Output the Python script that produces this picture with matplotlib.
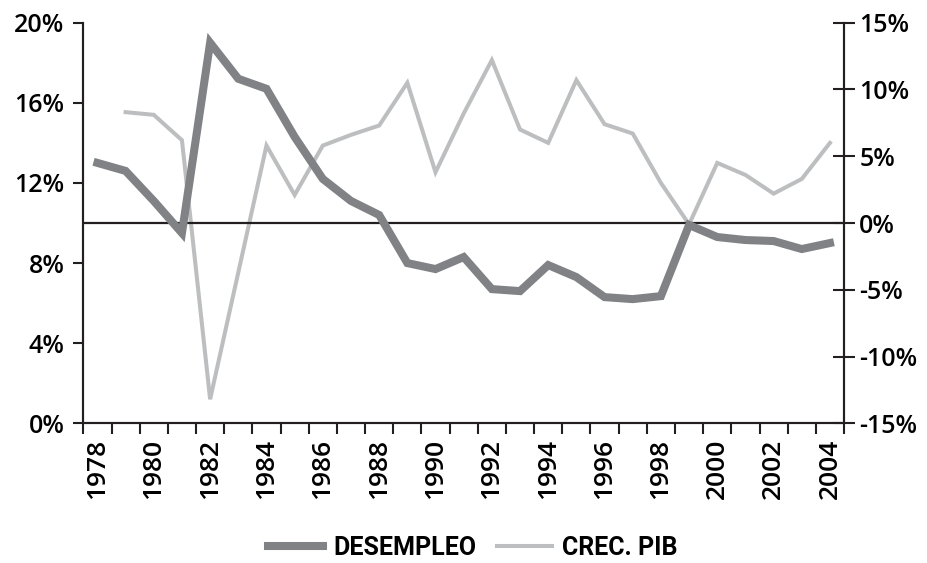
import numpy as np
import matplotlib
matplotlib.use("Agg")
import matplotlib.pyplot as plt
from matplotlib.ticker import FuncFormatter, FixedLocator

years = list(range(1978, 2005))
desempleo = [13.0, 12.6, 11.1, 9.5, 19.0, 17.2, 16.7, 14.3, 12.2, 11.1, 10.4,
             8.0, 7.7, 8.3, 6.7, 6.6, 7.9, 7.3, 6.3, 6.2, 6.35, 9.9, 9.3,
             9.15, 9.1, 8.7, 9.0]
# growth series starts in 1979
crec_pib = [np.nan, 8.3, 8.1, 6.2, -13.2, -3.7, 5.8, 2.1, 5.8, 6.6, 7.3,
            10.5, 3.8, 8.2, 12.2, 7.0, 6.0, 10.7, 7.4, 6.7, 3.0, -0.1, 4.5,
            3.6, 2.2, 3.3, 6.0]
label_years = years[::2]

font = 'Open Sans'
plt.rcParams['font.family'] = [font, 'DejaVu Sans']

fig = plt.figure(figsize=(9.27, 5.63), dpi=100)
ax = fig.add_axes([0.0899, 0.2481, 0.8206, 0.7116])
ax2 = ax.twinx()

x = np.arange(len(years))
ax2.plot(x, crec_pib, color='#bcbec0', linewidth=2.9, solid_joinstyle='miter',
         label='CREC. PIB')
ax.axhline(10, color='#231f20', linewidth=1.6, zorder=1)
ax.plot(x, desempleo, color='#808285', linewidth=5.8, solid_joinstyle='miter',
        label='DESEMPLEO', zorder=3)

ax.set_zorder(ax2.get_zorder() + 1)
ax.patch.set_visible(False)

ax.set_xlim(-0.5, len(years) - 0.5)
ax.set_ylim(0, 20)
ax2.set_ylim(-15, 15)

ax.set_yticks([0, 4, 8, 12, 16, 20])
ax.yaxis.set_major_formatter(FuncFormatter(lambda v, p: f"{v:.0f}%"))
ax2.set_yticks([-15, -10, -5, 0, 5, 10, 15])
ax2.yaxis.set_major_formatter(FuncFormatter(lambda v, p: f"{v:.0f}%"))

# category ticks between years, labels every other year
ax.xaxis.set_minor_locator(FixedLocator(np.arange(-0.5, len(years), 1)))
ax.set_xticks([years.index(y) for y in label_years])
ax.set_xticklabels([str(y) for y in label_years], rotation=90)
ax.tick_params(axis='x', which='major', length=0, pad=11, labelsize=19)
ax.tick_params(axis='x', which='minor', length=8, width=1.5, direction='out',
               color='#231f20')
for lab in ax.get_xticklabels():
    lab.set_fontweight('semibold')

ax.tick_params(axis='y', length=7.5, width=1.5, direction='out', pad=6,
               labelsize=18, color='#231f20')
ax2.tick_params(axis='y', length=16, width=1.5, direction='inout', pad=3,
                labelsize=18, color='#231f20')
for lab in ax.get_yticklabels() + ax2.get_yticklabels():
    lab.set_fontweight('semibold')

for a in (ax, ax2):
    a.spines['top'].set_visible(False)
    for s in ('left', 'right', 'bottom'):
        a.spines[s].set_linewidth(1.5)
        a.spines[s].set_color('#231f20')

h1, l1 = ax.get_legend_handles_labels()
h2, l2 = ax2.get_legend_handles_labels()
fig.legend(h1 + h2, l1 + l2, loc='center', bbox_to_anchor=(0.51, 0.027),
           ncol=2, frameon=False, handlelength=2.2, columnspacing=0.8,
           handletextpad=0.4,
           prop={'family': ['Roboto', 'DejaVu Sans'],
                 'weight': 'bold', 'size': 18})

fig.savefig('out.png', dpi=100)
